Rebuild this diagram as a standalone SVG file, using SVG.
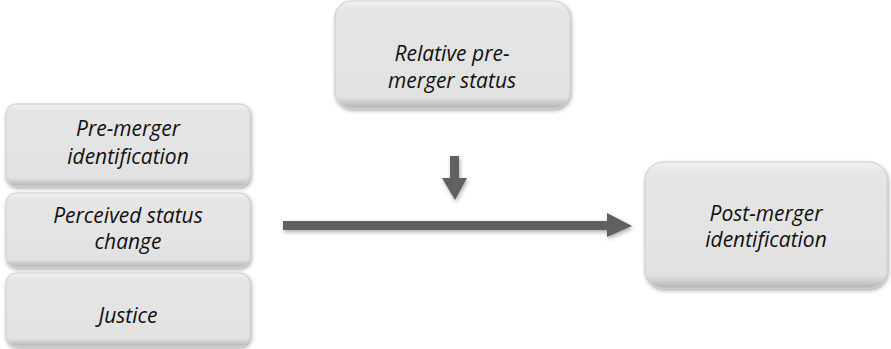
<svg xmlns="http://www.w3.org/2000/svg" width="891" height="349" viewBox="0 0 891 349">
<defs>
<linearGradient id="g" x1="0" y1="0" x2="0" y2="1">
<stop offset="0" stop-color="#f2f2f2"/>
<stop offset="0.08" stop-color="#e6e6e6"/>
<stop offset="0.9" stop-color="#e2e2e2"/>
<stop offset="1" stop-color="#b4b4b4"/>
</linearGradient>
<filter id="sh" x="-10%" y="-10%" width="125%" height="130%">
<feGaussianBlur in="SourceAlpha" stdDeviation="2"/>
<feOffset dx="1" dy="2" result="b"/>
<feComponentTransfer><feFuncA type="linear" slope="0.35"/></feComponentTransfer>
<feMerge><feMergeNode/><feMergeNode in="SourceGraphic"/></feMerge>
</filter>
</defs>
<style>
.box{fill:url(#g);stroke:#cccccc;stroke-width:1;filter:url(#sh)}
.t{font-family:"Open Sans","Noto Sans",sans-serif;font-style:italic;font-size:21px;fill:#111111;text-anchor:middle}
.ar{fill:#606060;filter:url(#sh)}
</style>
<g id="pre-merger-identification">
<rect class="box" x="6" y="104" width="244" height="82" rx="10"/>
<text class="t" x="128" y="136">Pre-merger</text>
<text class="t" x="128" y="164">identification</text>
</g>
<g id="perceived-status-change">
<rect class="box" x="6" y="193" width="244" height="74" rx="10"/>
<text class="t" x="128" y="223">Perceived status</text>
<text class="t" x="128" y="249">change</text>
</g>
<g id="justice">
<rect class="box" x="6" y="273" width="244" height="73" rx="10"/>
<text class="t" x="128" y="323">Justice</text>
</g>
<g id="relative-pre-merger-status">
<rect class="box" x="335" y="1" width="235" height="107" rx="16"/>
<text class="t" x="452" y="61">Relative pre-</text>
<text class="t" x="452" y="88">merger status</text>
</g>
<g id="post-merger-identification">
<rect class="box" x="645" y="162" width="242" height="126" rx="18"/>
<text class="t" x="766" y="221">Post-merger</text>
<text class="t" x="766" y="247">identification</text>
</g>
<g id="connectors">
<polygon class="ar" points="450,156 459,156 459,178 467,178 455,200 442,178 450,178"/>
<polygon class="ar" points="283,221 607,221 607,213 632,226 607,237 607,230 283,230"/>
</g>
</svg>
